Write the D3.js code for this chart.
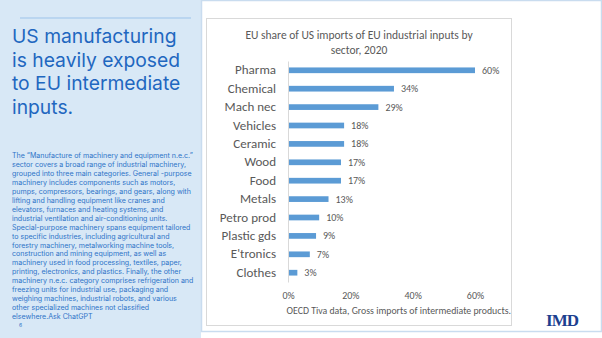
<!DOCTYPE html>
<html>
<head>
<meta charset="utf-8">
<script src="https://cdn.jsdelivr.net/npm/d3@7"></script>
<style>
  html, body { margin: 0; padding: 0; background: #ffffff; }
  svg { display: block; }
</style>
</head>
<body>
<svg id="slide" width="602" height="338"></svg>
<script>
// Sector categories and EU share of US imports of intermediate inputs (2020)
const sectors = ["Pharma", "Chemical", "Mach nec", "Vehicles", "Ceramic", "Wood", "Food",
                 "Metals", "Petro prod", "Plastic gds", "E'tronics", "Clothes"];
const shares = [0.60, 0.34, 0.29, 0.18, 0.18, 0.17, 0.17, 0.13, 0.10, 0.09, 0.07, 0.03];
const xTicks = [0, 0.2, 0.4, 0.6];

const chartTitle = ["EU share of US imports of EU industrial inputs by", "sector, 2020"];
const sourceNote = "OECD Tiva data, Gross imports of intermediate products.";

const headline = ["US manufacturing", "is heavily exposed", "to EU intermediate", "inputs."];
const bodyLines = [
  "The \u201cManufacture of machinery and equipment n.e.c.\u201d",
  "sector covers a broad range of industrial machinery,",
  "grouped into three main categories. General -purpose",
  "machinery includes components such as motors,",
  "pumps, compressors, bearings, and gears, along with",
  "lifting and handling equipment like cranes and",
  "elevators, furnaces and heating systems, and",
  "industrial ventilation and air-conditioning units.",
  "Special-purpose machinery spans equipment tailored",
  "to specific industries, including agricultural and",
  "forestry machinery, metalworking machine tools,",
  "construction and mining equipment, as well as",
  "machinery used in food processing, textiles, paper,",
  "printing, electronics, and plastics. Finally, the other",
  "machinery n.e.c. category comprises refrigeration and",
  "freezing units for industrial use, packaging and",
  "weighing machines, industrial robots, and various",
  "other specialized machines not classified",
  "elsewhere.Ask ChatGPT"
];

const svg = d3.select("#slide");
const blueText = "#2f74c8";

// ---- Left text panel ----
svg.append("rect").attr("x", 0).attr("y", 0).attr("width", 201).attr("height", 338)
  .attr("fill", "#d8e8f6");
svg.append("line").attr("x1", 20).attr("x2", 191).attr("y1", 18).attr("y2", 18)
  .attr("stroke", "#9cc3ea").attr("stroke-width", 1);

svg.append("g").selectAll("text").data(headline).join("text")
  .attr("x", 12).attr("y", (d, i) => 43 + i * 23.7)
  .attr("font-family", "Inter, 'Open Sans', sans-serif")
  .attr("font-size", 19.3).attr("fill", "#1f67c0")
  .text(d => d);

svg.append("g").selectAll("text").data(bodyLines).join("text")
  .attr("x", 12).attr("y", (d, i) => 158 + i * 8.95)
  .attr("font-family", "Inter, 'Open Sans', sans-serif")
  .attr("font-size", 7.05).attr("fill", blueText)
  .text(d => d);
svg.append("text").attr("x", 19).attr("y", 327)
  .attr("font-family", "Inter, sans-serif").attr("font-size", 5).attr("fill", blueText)
  .text("6");

// ---- Right panel frame ----
svg.append("rect").attr("x", 201.5).attr("y", 0.5).attr("width", 400).attr("height", 331)
  .attr("fill", "#ffffff").attr("stroke", "#c9dcef").attr("stroke-width", 1.5);

// Chart box
svg.append("rect").attr("x", 206.5).attr("y", 18.5).attr("width", 305).attr("height", 307)
  .attr("fill", "#ffffff").attr("stroke", "#d9d9d9").attr("stroke-width", 1);

const font = "Carlito, Calibri, 'Liberation Sans Narrow', 'Open Sans', sans-serif";
const grey = "#595959";

svg.append("g").selectAll("text").data(chartTitle).join("text")
  .attr("x", 359).attr("y", (d, i) => 39 + i * 15)
  .attr("text-anchor", "middle")
  .attr("font-family", font).attr("font-size", 11.5).attr("fill", grey)
  .text(d => d);

// Scales
const x = d3.scaleLinear().domain([0, 0.6]).range([288, 475]);
const y = d3.scaleBand().domain(sectors).range([61, 282]).paddingInner(0.69).paddingOuter(0.35);

const g = svg.append("g");

// Bars
g.selectAll("rect.bar").data(sectors).join("rect")
  .attr("class", "bar")
  .attr("x", x(0))
  .attr("y", d => y(d))
  .attr("width", (d, i) => x(shares[i]) - x(0))
  .attr("height", y.bandwidth())
  .attr("fill", "#5b9bd5");

// Category axis
const yAxis = d3.axisLeft(y).tickSize(0).tickPadding(12);
const ya = g.append("g").attr("transform", `translate(${x(0)},0)`).call(yAxis);
ya.select(".domain").attr("stroke", "#d9d9d9");
ya.selectAll("text").attr("font-family", font).attr("font-size", 13).attr("fill", grey);

// Value labels
g.selectAll("text.val").data(sectors).join("text")
  .attr("class", "val")
  .attr("x", (d, i) => x(shares[i]) + 7)
  .attr("y", d => y(d) + y.bandwidth() / 2)
  .attr("dy", "0.35em")
  .attr("font-family", font).attr("font-size", 10).attr("fill", grey)
  .text((d, i) => d3.format(".0%")(shares[i]));

// Value axis (labels only)
const xAxis = d3.axisBottom(x).tickValues(xTicks).tickFormat(d3.format(".0%")).tickSize(0).tickPadding(0);
const xa = g.append("g").attr("transform", "translate(0,292)").call(xAxis);
xa.select(".domain").remove();
xa.selectAll("text").attr("font-family", font).attr("font-size", 10).attr("fill", grey);

// Source note
svg.append("text").attr("x", 511).attr("y", 314).attr("text-anchor", "end")
  .attr("font-family", font).attr("font-size", 9.8).attr("fill", grey)
  .text(sourceNote);

// Logo
svg.append("text").attr("x", 562).attr("y", 326).attr("text-anchor", "middle")
  .attr("font-family", "'Liberation Serif', 'DejaVu Serif', serif")
  .attr("font-weight", "bold").attr("font-size", 17).attr("letter-spacing", -1)
  .attr("fill", "#1d3f8f")
  .text("IMD");
</script>
</body>
</html>
